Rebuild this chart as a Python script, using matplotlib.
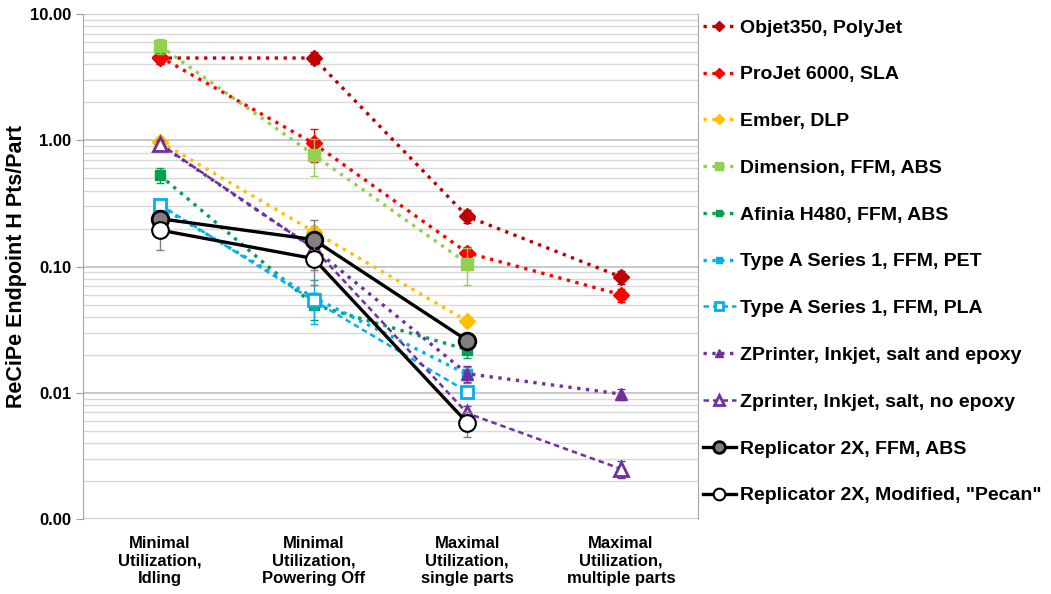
import numpy as np
import matplotlib
matplotlib.use('Agg')
from matplotlib import pyplot as plt
from matplotlib.ticker import FixedLocator, LogLocator, NullFormatter

plt.rcParams['font.family'] = ['Liberation Sans', 'DejaVu Sans']
plt.rcParams['font.weight'] = 'bold'

# kategoriler (x ekseni)
categories = ['Minimal\nUtilization,\nIdling', 'Minimal\nUtilization,\nPowering Off',
              'Maximal\nUtilization,\nsingle parts', 'Maximal\nUtilization,\nmultiple parts']

labels = ['Objet350, PolyJet', 'ProJet 6000, SLA', 'Ember, DLP', 'Dimension, FFM, ABS',
          'Afinia H480, FFM, ABS', 'Type A Series 1, FFM, PET', 'Type A Series 1, FFM, PLA',
          'ZPrinter, Inkjet, salt and epoxy', 'Zprinter, Inkjet, salt, no epoxy',
          'Replicator 2X, FFM, ABS', 'Replicator 2X, Modified, "Pecan"']

nan = np.nan
objet = [4.5, 4.5, 0.25, 0.083]
projet = [4.6, 0.95, 0.129, 0.060]
ember = [0.98, 0.19, 0.037, nan]
dimension = [5.6, 0.77, 0.106, nan]
afinia = [0.53, 0.050, 0.022, nan]
pet = [0.30, 0.057, 0.014, nan]
pla = [0.31, 0.054, 0.0102, nan]
zp_epoxy = [0.93, 0.140, 0.0142, 0.0098]
zp_noepoxy = [0.94, 0.140, 0.0069, 0.0025]
rep_abs = [0.24, 0.164, 0.026, nan]
pecan = [0.195, 0.116, 0.0058, nan]

# hata çubukları (mutlak)
objet_err = [0.5, 0.5, 0.03, 0.01]
projet_err = [0.5, 0.28, 0.015, 0.007]
ember_err = [0.08, 0.02, 0.003, nan]
dimension_err = [0.8, 0.25, 0.035, nan]
afinia_err = [0.07, 0.012, 0.003, nan]
pet_err = [0.04, 0.022, 0.002, nan]
pla_err = [0.03, 0.008, 0.001, nan]
zp_epoxy_err = [0.06, 0.02, 0.002, 0.001]
zp_noepoxy_err = [0.06, 0.02, 0.001, 0.0004]
rep_abs_err = [0.03, 0.07, 0.004, nan]
pecan_err = [0.06, 0.045, 0.0013, nan]

series = [objet, projet, ember, dimension, afinia, pet, pla, zp_epoxy, zp_noepoxy, rep_abs, pecan]
errors = [objet_err, projet_err, ember_err, dimension_err, afinia_err, pet_err, pla_err,
          zp_epoxy_err, zp_noepoxy_err, rep_abs_err, pecan_err]

dot = ':'
dash = (0, (2.2, 1.6))
styles = [
    dict(color='#C00000', ls=dot, lw=2.4, marker='D', mfc='#C00000', mec='#C00000', ms=8, ecolor='#C00000'),
    dict(color='#FF0000', ls=dot, lw=2.4, marker='D', mfc='#FF0000', mec='#FF0000', ms=8, ecolor='#FF0000'),
    dict(color='#FFC000', ls=dot, lw=2.4, marker='D', mfc='#FFC000', mec='#FFC000', ms=8, ecolor='#FFC000'),
    dict(color='#92D050', ls=dot, lw=2.4, marker='s', mfc='#92D050', mec='#92D050', ms=8, ecolor='#92D050'),
    dict(color='#00A050', ls=dot, lw=2.4, marker='s', mfc='#00A050', mec='#00A050', ms=7, ecolor='#00A050'),
    dict(color='#00B0F0', ls=dot, lw=2.4, marker='s', mfc='#00B0F0', mec='#00B0F0', ms=7, ecolor='#00B0F0'),
    dict(color='#00B0F0', ls=dash, lw=1.8, marker='s', mfc='white', mec='#00B0F0', ms=8, mew=2, ecolor='#00B0F0'),
    dict(color='#7030A0', ls=dot, lw=2.4, marker='^', mfc='#7030A0', mec='#7030A0', ms=9, ecolor='#7030A0'),
    dict(color='#7030A0', ls=dash, lw=1.8, marker='^', mfc='white', mec='#7030A0', ms=10, mew=2, ecolor='#7030A0'),
    dict(color='black', ls='-', lw=2.4, marker='o', mfc='#808080', mec='black', ms=12, mew=2, ecolor='#808080'),
    dict(color='black', ls='-', lw=2.4, marker='o', mfc='white', mec='black', ms=12, mew=1.5, ecolor='#808080'),
]

x = np.arange(len(categories))

fig = plt.figure(figsize=(10.51, 5.94), dpi=100)
ax = fig.add_axes([0.079, 0.126, 0.585, 0.85])

handles = []
for vals, err, lab, st in zip(series, errors, labels, styles):
    st = dict(st)
    ecol = st.pop('ecolor')
    ax.errorbar(x, vals, yerr=err, fmt='none', ecolor=ecol, elinewidth=1, capsize=3, capthick=1)
    h, = ax.plot(x, vals, label=lab, **st)
    handles.append(h)

ax.set_yscale('log')
ax.set_ylim(0.001, 10)
ax.set_xlim(-0.5, 3.5)
ax.yaxis.set_major_locator(FixedLocator([0.001, 0.01, 0.1, 1, 10]))
ax.set_yticklabels(['0.00', '0.01', '0.10', '1.00', '10.00'], fontsize=12, fontweight='bold')
ax.yaxis.set_minor_locator(LogLocator(base=10, subs=np.arange(2, 10)))
ax.yaxis.set_minor_formatter(NullFormatter())
ax.grid(True, which='major', axis='y', color='#BFBFBF', lw=1.2)
ax.grid(True, which='minor', axis='y', color='#D9D9D9', lw=1)
ax.set_axisbelow(True)
ax.tick_params(axis='y', which='minor', length=0)
ax.tick_params(axis='y', which='major', length=5, color='#A0A0A0')
ax.set_xticks(x)
ax.set_xticklabels(categories, fontsize=12, fontweight='bold')
ax.tick_params(axis='x', length=0, pad=12)
for s in ['left', 'right']:
    ax.spines[s].set_color('#A6A6A6')
for s in ['top', 'bottom']:
    ax.spines[s].set_visible(False)
ax.set_ylabel('ReCiPe Endpoint H Pts/Part', fontsize=15.5, fontweight='bold', labelpad=2)

ax.legend(handles=handles, loc='center left', bbox_to_anchor=(0.995, 0.51), frameon=False,
          fontsize=14, handlelength=1.7, handletextpad=0.2, labelspacing=1.5,
          borderaxespad=0.0, markerscale=0.7)

plt.savefig('out.png', dpi=100)
